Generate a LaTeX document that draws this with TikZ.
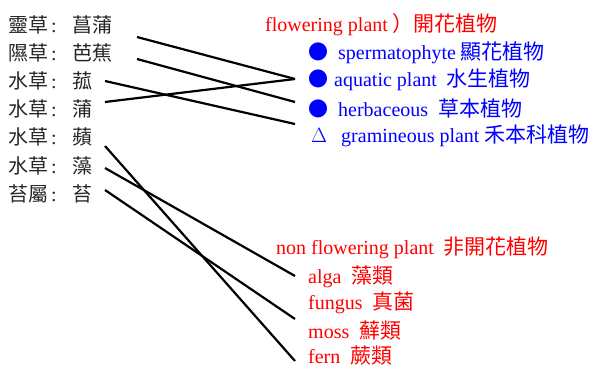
\documentclass[tikz,border=0pt]{standalone}
\usepackage{fontspec}
\setmainfont{Liberation Serif}
\newfontfamily\cjk{Noto Sans CJK TC}
\newfontfamily\cjkr[Scale=1.05]{Noto Sans CJK TC}
\usepackage{xcolor}
\usepackage{tikz}

\newcommand{\colsep}{\makebox[24pt][l]{\hspace{3pt}\rmfamily :}}

\begin{document}
\begin{tikzpicture}[x=1pt,y=-1pt]
	\useasboundingbox (0,0) rectangle (592,367);
	\begin{scope}[every node/.style={anchor=west,inner sep=0pt,text=black!85,font=\cjk\fontsize{20}{24}\selectfont}]
		\node (R1) at (8,25) {靈草\colsep 菖蒲};
		\node (R2) at (8,53) {隰草\colsep 芭蕉};
		\node (R3) at (8,81) {水草\colsep 菰};
		\node (R4) at (8,109) {水草\colsep 蒲};
		\node (R5) at (8,137) {水草\colsep 蘋};
		\node (R6) at (8,166) {水草\colsep 藻};
		\node (R7) at (8,194) {苔屬\colsep 苔};
	\end{scope}
	
	\begin{scope}[every node/.style={anchor=west,inner sep=0pt,font=\fontsize{20}{24}\selectfont}]
		\node[text=red] (FL) at (265,25) {flowering plant {\cjkr ）開花植物}};
		\node[text=blue] (F1) at (308,53) {{\cjk ●}\hspace{10pt}spermatophyte {\cjkr 顯花植物}};
		\node[text=blue] (F2) at (308,80) {{\cjk ●}\hspace{6pt}aquatic plant\ \ {\cjkr 水生植物}};
		\node[text=blue] (F3) at (308,108) {{\cjk ●}\hspace{10pt}herbaceous\ \ {\cjkr 草本植物}};
		\node[text=blue] (F4) at (311,136) {$\Delta$\hspace{14pt}gramineous plant {\cjkr 禾本科植物}};
		\node[text=red] (NF) at (276,248) {non flowering plant\ \ {\cjkr 非開花植物}};
		\node[text=red] (N1) at (308,277) {alga\ \ {\cjkr 藻類}};
		\node[text=red] (N2) at (308,303) {fungus\ \ {\cjkr 真菌}};
		\node[text=red] (N3) at (308,331) {moss\ \ {\cjkr 蘚類}};
		\node[text=red] (N4) at (308,356) {fern\ \ {\cjkr 蕨類}};
	\end{scope}
	
	% line ends
	\coordinate (S1) at (137,37);
	\coordinate (S2) at (137,59);
	\coordinate (S3) at (105,81);
	\coordinate (S4) at (105,102);
	\coordinate (S5) at (105,146);
	\coordinate (S6) at (105,168);
	\coordinate (S7) at (105,190);
	\coordinate (E2) at (295,79);
	\coordinate (E3) at (295,102);
	\coordinate (E4) at (295,124);
	\coordinate (M1) at (295,276);
	\coordinate (M3) at (295,319);
	\coordinate (M4) at (295,361);
	
	\begin{scope}[line width=2.2pt]
		\draw (S1) -- (E2);
		\draw (S2) -- (E3);
		\draw (S3) -- (E4);
		\draw (S4) -- (E2);
		\draw (S5) -- (M4);
		\draw (S6) -- (M1);
		\draw (S7) -- (M3);
	\end{scope}
\end{tikzpicture}
\end{document}
